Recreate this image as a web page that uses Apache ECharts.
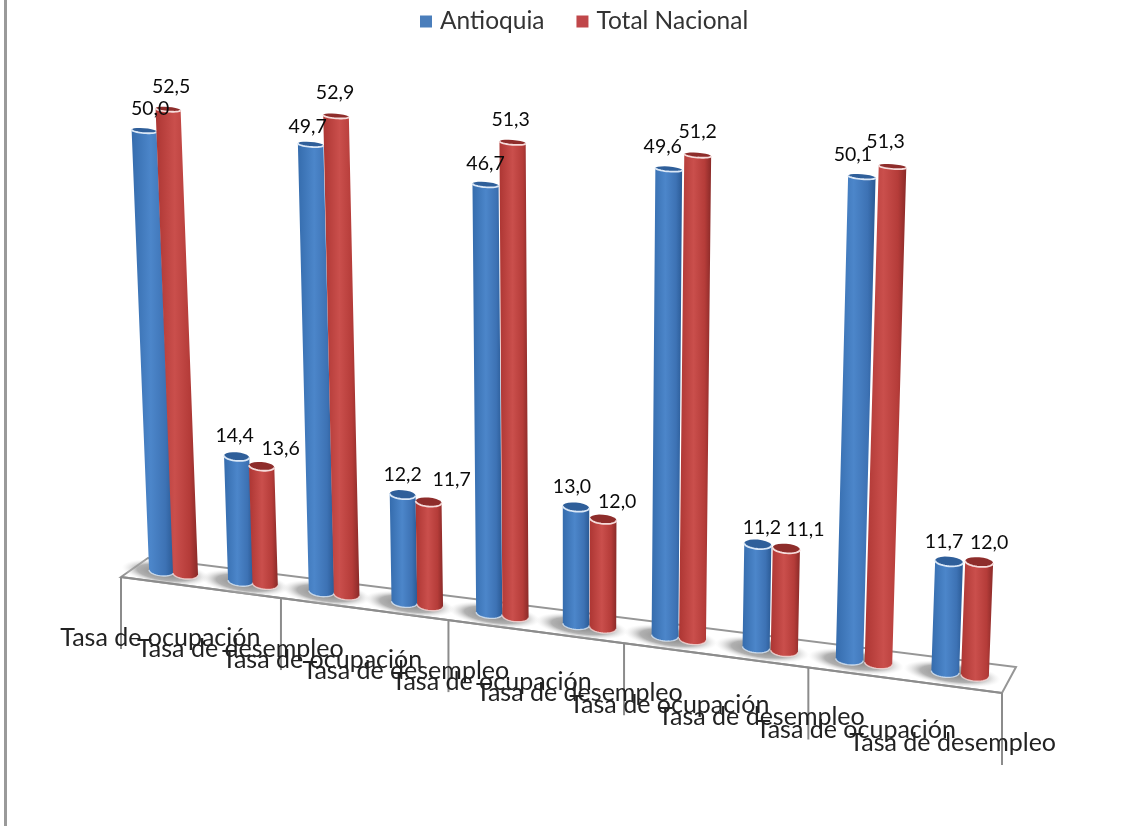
<!DOCTYPE html>
<html>
<head>
<meta charset="utf-8">
<title>Tasa de ocupación y desempleo</title>
<script src="https://cdn.jsdelivr.net/npm/echarts@6/dist/echarts.min.js"></script>
<style>
  html, body { margin: 0; padding: 0; background: #fff; }
  #chart { width: 1146px; height: 832px; }
</style>
</head>
<body>
<div id="chart"></div>
<script>
// Chart data
const categories = [
  'Tasa de ocupación', 'Tasa de desempleo',
  'Tasa de ocupación', 'Tasa de desempleo',
  'Tasa de ocupación', 'Tasa de desempleo',
  'Tasa de ocupación', 'Tasa de desempleo',
  'Tasa de ocupación', 'Tasa de desempleo'
];
const antioquia = [50.0, 14.4, 49.7, 12.2, 46.7, 13.0, 49.6, 11.2, 50.1, 11.7];
const totalNacional = [52.5, 13.6, 52.9, 11.7, 51.3, 12.0, 51.2, 11.1, 51.3, 12.0];

// Hand placement of the value labels, relative to the top of each cylinder
const antioquiaLabelDx = [6, -2, -3, 0, 0, -4, -6, 4, -9, -5];
const antioquiaLabelDy = [-22, -21, -18, -20, -21, -20, -22, -17, -22, -20];
const nacionalLabelDx = [3, 19, -1, 23, -2, 14, 0, 19, -7, 10];
const nacionalLabelDy = [-23, -18, -23, -22, -23, -18, -23, -19, -25, -19];

// Floor corners and the perspective of the 3D plot
const FRONT_L = [121, 577], FRONT_R = [1002, 693];
const BACK_L = [148, 558], BACK_R = [1016, 667];
const PERSPECTIVE = 0.127;   // foreshortening from the right end to the left end
const LEAN = 9.5e-5;         // verticals diverge upward around LEAN_CENTER
const LEAN_CENTER = 580;
const RISE_BASE = 0.97;      // tops of tall cylinders sit nearer the viewer
const RISE_GAIN = 9e-5;
const RISE_FALLOFF = 0.011;  // and rise a little less toward the right end
const BAR_DEPTH = 0.5;       // bars stand halfway between the floor edges
const GRID = { left: 121, width: 881, top: 100, height: 588 };
const FONT = 'Lato, "Noto Sans", sans-serif';

const lerp = (a, b, k) => a + (b - a) * k;
const along = (t) => t / (1 + PERSPECTIVE * (1 - t));
const scaleAt = (t) => 1 / (1 + PERSPECTIVE * (1 - t));

function floorPoint(t, depth) {
  const p = along(t);
  const fx = lerp(FRONT_L[0], FRONT_R[0], p), fy = lerp(FRONT_L[1], FRONT_R[1], p);
  const bx = lerp(BACK_L[0], BACK_R[0], p), by = lerp(BACK_L[1], BACK_R[1], p);
  return [lerp(fx, bx, depth), lerp(fy, by, depth)];
}

function ellipseArc(cx, cy, rx, ry, from, to) {
  const pts = [];
  for (let i = 0; i <= 20; i++) {
    const a = lerp(from, to, i / 20);
    pts.push([cx + rx * Math.cos(a), cy + ry * Math.sin(a) + 0.08 * rx * Math.cos(a)]);
  }
  return pts;
}

function cylinderSeries(name, values, side, palette, labelDx, labelDy) {
  return {
    name: name,
    type: 'custom',
    coordinateSystem: 'cartesian2d',
    silent: true,
    itemStyle: { color: palette.legend },
    data: values.map((v, i) => [i, v]),
    encode: { x: 0, y: 1 },
    renderItem: function (params, api) {
      const i = api.value(0), v = api.value(1);
      const band = api.size([1, 0])[0];
      const top = api.coord([i, v]);
      const zero = api.coord([i, 0]);
      const t = (zero[0] + side * band * 0.1525 - GRID.left) / GRID.width;
      const s = scaleAt(t);
      const base = floorPoint(t, BAR_DEPTH);
      const flat = (zero[1] - top[1]) * s;
      const h = flat * (RISE_BASE + RISE_GAIN * flat) * (1 - RISE_FALLOFF * t);
      const topX = base[0] + (base[0] - LEAN_CENTER) * LEAN * h;
      const topY = base[1] - h;
      const rx = 14 * s;
      const baseRy = 5.5 * s;
      const topRy = baseRy * (1 - h / 880);
      const baseFront = ellipseArc(base[0], base[1], rx, baseRy, Math.PI, 0);
      const topFront = ellipseArc(topX, topY, rx, topRy, Math.PI, 0);
      const body = baseFront.concat(topFront.slice().reverse());
      return {
        type: 'group',
        children: [
          {
            type: 'polygon',
            shape: { points: body },
            style: {
              fill: {
                type: 'linear', x: 0, y: 0, x2: 1, y2: 0,
                colorStops: palette.body
              }
            }
          },
          {
            type: 'polygon',
            shape: { points: ellipseArc(topX, topY, rx, topRy, 0, Math.PI * 2) },
            style: { fill: palette.cap }
          },
          {
            type: 'polyline',
            shape: { points: topFront },
            style: { fill: null, stroke: palette.rim, lineWidth: 1.8 }
          },
          {
            type: 'polyline',
            shape: { points: baseFront },
            style: { fill: null, stroke: palette.rim, lineWidth: 1.4, opacity: 0.8 }
          },
          {
            type: 'text',
            z2: 100,
            style: {
              text: v.toFixed(1).replace('.', ','),
              x: topX + labelDx[i],
              y: topY + labelDy[i],
              align: 'center',
              verticalAlign: 'middle',
              fill: '#0a0a0a',
              font: '19.5px ' + FONT
            }
          }
        ]
      };
    }
  };
}

// Floor, tick lines, shadows under each pair and the category names
const frameSeries = {
  name: 'frame',
  type: 'custom',
  coordinateSystem: 'cartesian2d',
  silent: true,
  z: 1,
  data: categories.map((c, i) => [i, 0]),
  encode: { x: 0, y: 1 },
  renderItem: function (params, api) {
    const i = api.value(0);
    const band = api.size([1, 0])[0];
    const center = api.coord([i, 0])[0];
    const t = (center - GRID.left) / GRID.width;
    const s = scaleAt(t);
    const children = [];
    const grey = '#8c8c8c';

    if (i === 0) {
      children.push({
        type: 'polygon',
        shape: { points: [FRONT_L, BACK_L, BACK_R, FRONT_R] },
        style: { fill: '#fff', stroke: '#969696', lineWidth: 2 }
      });
    }

    const mid = floorPoint(t, BAR_DEPTH);
    children.push({
      type: 'circle',
      x: mid[0] - 8,
      y: mid[1],
      scaleX: 4.1 * s,
      rotation: -0.13,
      shape: { cx: 0, cy: 0, r: 12 },
      style: {
        fill: {
          type: 'radial', x: 0.5, y: 0.5, r: 0.5,
          colorStops: [
            { offset: 0, color: 'rgba(120,120,120,0.95)' },
            { offset: 0.65, color: 'rgba(150,150,150,0.75)' },
            { offset: 1, color: 'rgba(225,225,225,0)' }
          ]
        }
      }
    });

    const tickEdges = [];
    if (i % 2 === 0) tickEdges.push((center - band / 2 - GRID.left) / GRID.width);
    if (i === categories.length - 1) tickEdges.push((center + band / 2 - GRID.left) / GRID.width);
    tickEdges.forEach(function (edge) {
      const p = floorPoint(edge, 0);
      children.push({
        type: 'line',
        shape: { x1: p[0], y1: p[1], x2: p[0], y2: p[1] + 72 },
        style: { stroke: grey, lineWidth: 2 }
      });
    });

    if (i === 0) {
      children.push({
        type: 'line',
        shape: { x1: FRONT_L[0], y1: FRONT_L[1], x2: FRONT_R[0], y2: FRONT_R[1] },
        style: { stroke: grey, lineWidth: 2.2 }
      });
    }

    const front = floorPoint(t, 0);
    children.push({
      type: 'text',
      z2: 100,
      style: {
        text: categories[i],
        x: front[0],
        y: front[1] + 56,
        align: 'center',
        verticalAlign: 'middle',
        fill: '#222',
        font: '25px ' + FONT
      }
    });
    return { type: 'group', children: children };
  }
};

const chart = echarts.init(document.getElementById('chart'), null, { renderer: 'canvas' });
chart.setOption({
  animation: false,
  backgroundColor: '#fff',
  legend: {
    data: ['Antioquia', 'Total Nacional'],
    left: 415,
    top: 4,
    icon: 'rect',
    itemWidth: 12,
    itemHeight: 12,
    itemGap: 32,
    textStyle: { fontFamily: 'Lato', fontSize: 24.5, color: '#333', padding: [0, 0, 0, 3] }
  },
  grid: { left: GRID.left, width: GRID.width, top: GRID.top, height: GRID.height },
  xAxis: { type: 'category', data: categories, show: false },
  yAxis: { type: 'value', min: 0, max: 60, show: false },
  graphic: [{
    type: 'line',
    shape: { x1: 5.5, y1: 0, x2: 5.5, y2: 826 },
    style: { stroke: '#9a9a9a', lineWidth: 3 }
  }],
  series: [
    frameSeries,
    cylinderSeries('Antioquia', antioquia, -1, {
      legend: '#4a7ebb',
      cap: '#2f5f9a',
      rim: '#dbe8f7',
      body: [
        { offset: 0, color: '#356cad' },
        { offset: 0.45, color: '#4c86ca' },
        { offset: 0.8, color: '#3d72b4' },
        { offset: 1, color: '#2a5a95' }
      ]
    }, antioquiaLabelDx, antioquiaLabelDy),
    cylinderSeries('Total Nacional', totalNacional, 1, {
      legend: '#c0474a',
      cap: '#8e2d2b',
      rim: '#f6dcdb',
      body: [
        { offset: 0, color: '#ad3633' },
        { offset: 0.45, color: '#ca4f4c' },
        { offset: 0.8, color: '#b53c39' },
        { offset: 1, color: '#8a2a28' }
      ]
    }, nacionalLabelDx, nacionalLabelDy)
  ]
});
</script>
</body>
</html>
